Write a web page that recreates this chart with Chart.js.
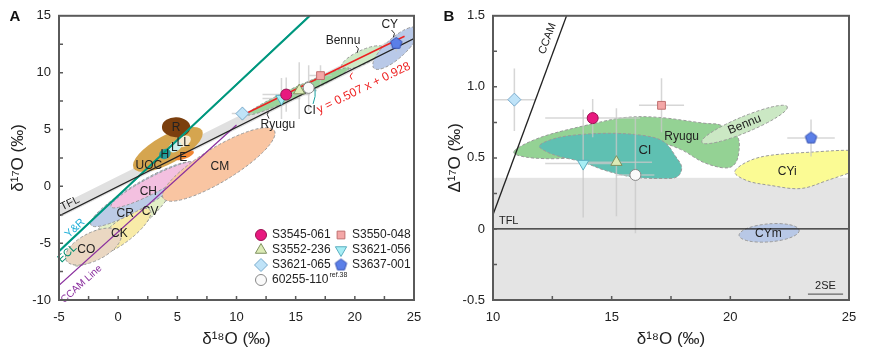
<!DOCTYPE html>
<html>
<head>
<meta charset="utf-8">
<script src="https://cdn.jsdelivr.net/npm/chart.js@4.4.0/dist/chart.umd.min.js"></script>
<style>
html, body { margin: 0; padding: 0; background: #fff; }
#wrap { position: relative; width: 869px; height: 360px; }
#chartA { position: absolute; left: 0; top: 0; }
#chartB { position: absolute; left: 434px; top: 0; }
</style>
</head>
<body>
<div id="wrap">
  <canvas id="chartA" width="434" height="360"></canvas>
  <canvas id="chartB" width="435" height="360"></canvas>
</div>
<script>
// ---- data ----
const samples = ['S3545-061', 'S3550-048', 'S3552-236', 'S3621-056', 'S3621-065', 'S3637-001', '60255-110'];
// panel A: d18O vs d17O
const d18A = [14.2, 17.1, 15.3, 13.8, 10.5, 23.5, 16.1];
const d17A = [8.07, 9.74, 8.42, 7.72, 6.40, 12.57, 8.66];
const d17Err = [1.5, 0.9, 2.5, 1.8, 0.6, 0.7, 2.0];
// panel B: d18O vs cap17O
const d18B = [14.2, 17.1, 15.2, 13.8, 10.9, 23.4, 16.0];
const cap17B = [0.78, 0.87, 0.47, 0.46, 0.91, 0.64, 0.38];
const cap17Err = [0.135, 0.19, 0.38, 0.38, 0.22, 0.13, 0.41];
const d18Err = [2.0, 0.95, 1.5, 1.6, 0.9, 1.0, 0.8];

const xTicksA = [-5, 0, 5, 10, 15, 20, 25];
const yTicksA = [-10, -5, 0, 5, 10, 15];
const xTicksB = [10, 15, 20, 25];
const yTicksB = [-0.5, 0, 0.5, 1.0, 1.5];

// reference lines
const tflA = [[-5, -2.6], [25, 13.0]];
const tflBandA = [[-5, -2.25], [25, 13.35]];
const eclA = [[-5, -5.7], [16.2, 15]];
const yrA = [[-5, -5.75], [16.15, 15]];
const ccamA = [[-5, -8.7], [10, 5.4]];
const fitA = [[10.5, 6.25], [24.2, 13.2]];
const tflB = [[10, 0], [25, 0]];
const ccamB = [[10, 0.1], [13.1, 1.5]];
const shadeTopB = 0.36;

// meteorite fields, panel A (major axis end points)
const fieldEndsA = {
  CV: [[-3.8, -6.9], [4.4, -0.1]],
  CK: [[-2.1, -5.9], [2.7, -2.1]],
  CO: [[-4.4, -6.5], [0.2, -4.1]],
  CR: [[-2.3, -3.4], [6.4, 2.0]],
  CH: [[-0.6, -1.8], [6.6, 2.1]],
  CM: [[3.8, -1.05], [13.2, 4.9]],
  UOC: [[1.3, 1.6], [7.1, 4.9]],
  LL: [[5.0, 3.6], [6.1, 4.3]],
  L: [[4.3, 3.15], [5.3, 3.8]],
  H: [[3.5, 2.6], [4.4, 3.1]],
  E: [[4.8, 2.4], [6.4, 3.05]],
  R: [[3.7, 5.25], [6.1, 5.15]],
  Bennu: [[18.9, 10.5], [22.4, 12.2]],
  CY: [[21.6, 10.4], [25.3, 13.9]],
  Ryugu: [[10.9, 6.3], [19.5, 10.4]]
};
// panel B fields
const ryuguB = [[10.9, 0.55], [12.1, 0.65], [14.2, 0.74], [15.6, 0.785], [17.0, 0.785], [18.85, 0.745], [19.6, 0.73], [20.3, 0.65], [20.35, 0.53], [20.15, 0.45], [19.7, 0.43], [18.85, 0.47], [17.9, 0.56], [17.0, 0.6], [15.5, 0.56], [14.0, 0.52], [12.8, 0.495], [11.4, 0.505]];
const ciB = [[11.97, 0.59], [12.8, 0.645], [14.2, 0.67], [15.6, 0.67], [16.74, 0.645], [17.3, 0.6], [17.67, 0.517], [17.95, 0.435], [17.74, 0.365], [17.04, 0.355], [15.9, 0.365], [14.76, 0.41], [13.79, 0.47], [12.8, 0.51], [12.24, 0.545]];
const cyiB = [[20.2, 0.41], [21.25, 0.505], [23.36, 0.54], [25.4, 0.545], [25.4, 0.43], [24.06, 0.34], [22.94, 0.284], [21.67, 0.307], [20.7, 0.34]];
const bennuEndsB = [[18.8, 0.61], [22.4, 0.86]];
const cymEndsB = [[20.37, -0.045], [22.9, -0.01]];

// ---- styles ----
Chart.defaults.font.family = "'Liberation Sans', Arial, sans-serif";
Chart.defaults.color = '#222';
const FONT = "'Liberation Sans', Arial, sans-serif";

function makePentagon(r, fill, stroke) {
  const c = document.createElement('canvas');
  const s = Math.ceil(2 * r + 3);
  c.width = s; c.height = s;
  const g = c.getContext('2d');
  g.beginPath();
  for (let i = 0; i < 5; i++) {
    const a = -Math.PI / 2 + i * 2 * Math.PI / 5;
    const x = s / 2 + r * Math.cos(a), y = s / 2 + r * Math.sin(a);
    if (i) g.lineTo(x, y); else g.moveTo(x, y);
  }
  g.closePath();
  g.fillStyle = fill; g.fill();
  g.strokeStyle = stroke; g.lineWidth = 1; g.stroke();
  return c;
}
const pentagon = makePentagon(6, '#5b7fe8', '#3450b0');

const markers = [
  { ps: 'circle', rot: 0, r: 5.5, bg: '#e8197f', bc: '#9a1050' },
  { ps: 'rect', rot: 0, r: 5.5, bg: '#f4a7a7', bc: '#c07070' },
  { ps: 'triangle', rot: 0, r: 6.5, bg: '#dcebb6', bc: '#7f9060' },
  { ps: 'triangle', rot: 180, r: 6.5, bg: '#a8eef5', bc: '#5aaec0' },
  { ps: 'rectRot', rot: 0, r: 6.5, bg: '#bfe3f8', bc: '#78aacc' },
  { ps: pentagon, rot: 0, r: 6, bg: '#5b7fe8', bc: '#3450b0' },
  { ps: 'circle', rot: 0, r: 5.5, bg: '#fafafa', bc: '#888' }
];

const fieldStyleA = {
  CV: { fill: '#e3efc6', hw: 13, dash: true },
  CK: { fill: '#f8eba8', hw: 11, dash: true },
  CO: { fill: '#ead7c2', hw: 14, dash: true },
  CR: { fill: '#bccbe6', hw: 12, dash: true },
  CH: { fill: '#f3c0e0', hw: 8, dash: true },
  CM: { fill: '#f9c5a2', hw: 17, dash: true },
  UOC: { fill: '#d5a54f', hw: 14 },
  LL: { fill: '#f7ead2', hw: 5 },
  L: { fill: '#c9eeee', hw: 5 },
  H: { fill: '#2a9c9c', hw: 5 },
  E: { fill: '#ef8532', hw: 3.5 },
  R: { fill: '#7b3f0e', hw: 10 },
  Bennu: { fill: '#cfe9c6', hw: 7, dash: true },
  CY: { fill: '#b9c9e8', hw: 10, dash: true },
  Ryugu: { fill: '#9bd49b', hw: 5, dash: true }
};

const labelsA = [
  { t: 'R', x: 4.9, y: 5.2 }, { t: 'LL', x: 5.5, y: 3.85 }, { t: 'L', x: 4.75, y: 3.4 },
  { t: 'H', x: 3.95, y: 2.8 }, { t: 'E', x: 5.5, y: 2.5 }, { t: 'UOC', x: 2.6, y: 1.8 },
  { t: 'CM', x: 8.6, y: 1.7 }, { t: 'CH', x: 2.55, y: -0.45 }, { t: 'CR', x: 0.6, y: -2.4 },
  { t: 'CV', x: 2.7, y: -2.25 }, { t: 'CK', x: 0.1, y: -4.2 }, { t: 'CO', x: -2.7, y: -5.55 },
  { t: 'Ryugu', x: 13.5, y: 5.45 }, { t: 'CI', x: 16.2, y: 6.65 }, { t: 'Bennu', x: 19.0, y: 12.8 },
  { t: 'CY', x: 22.95, y: 14.25 }
];
const leadersA = [
  { c: '#333', p: [[12.75, 5.96], [12.6, 6.3], [12.7, 6.6]] },
  { c: '#1aa0a0', p: [[16.47, 7.25], [16.64, 7.9], [16.64, 8.55]] },
  { c: '#333', p: [[20.1, 12.35], [20.3, 12.1], [20.2, 11.75]] },
  { c: '#333', p: [[23.1, 13.75], [23.35, 13.45], [23.25, 13.1]] },
  { c: '#e22', p: [[19.8, 10.0], [19.6, 9.7], [19.75, 9.4]] }
];

// ---- helpers ----
function P(chart, x, y) { return [chart.scales.x.getPixelForValue(x), chart.scales.y.getPixelForValue(y)]; }

function ellipseBetween(ctx, a, b, hw) {
  const cx = (a[0] + b[0]) / 2, cy = (a[1] + b[1]) / 2;
  const rx = Math.hypot(b[0] - a[0], b[1] - a[1]) / 2;
  const ang = Math.atan2(b[1] - a[1], b[0] - a[0]);
  ctx.beginPath();
  ctx.ellipse(cx, cy, rx, hw, ang, 0, Math.PI * 2);
}

function smoothClosed(ctx, pts) {
  const n = pts.length;
  ctx.beginPath();
  ctx.moveTo(pts[0][0], pts[0][1]);
  for (let i = 0; i < n; i++) {
    const p0 = pts[(i - 1 + n) % n], p1 = pts[i], p2 = pts[(i + 1) % n], p3 = pts[(i + 2) % n];
    ctx.bezierCurveTo(p1[0] + (p2[0] - p0[0]) / 6, p1[1] + (p2[1] - p0[1]) / 6,
      p2[0] - (p3[0] - p1[0]) / 6, p2[1] - (p3[1] - p1[1]) / 6, p2[0], p2[1]);
  }
  ctx.closePath();
}

function paintField(ctx, fill, dash) {
  ctx.fillStyle = fill;
  ctx.fill();
  if (dash) {
    ctx.setLineDash([3, 2]);
    ctx.strokeStyle = '#9a9a9a';
    ctx.lineWidth = 1;
    ctx.stroke();
    ctx.setLineDash([]);
  }
}

function text(ctx, t, x, y, opt) {
  opt = opt || {};
  ctx.save();
  ctx.translate(x, y);
  ctx.rotate(opt.angle || 0);
  ctx.font = opt.font || ('12px ' + FONT);
  ctx.fillStyle = opt.color || '#222';
  ctx.textAlign = opt.align || 'center';
  ctx.textBaseline = 'middle';
  ctx.fillText(t, 0, 0);
  ctx.restore();
}

function lineAngle(chart, pts) {
  const a = P(chart, pts[0][0], pts[0][1]), b = P(chart, pts[1][0], pts[1][1]);
  return Math.atan2(b[1] - a[1], b[0] - a[0]);
}

function drawErrorBars(chart, xs, ys, xe, ye) {
  const ctx = chart.ctx;
  ctx.save();
  ctx.strokeStyle = 'rgba(200,200,200,0.75)';
  ctx.lineWidth = 1.5;
  for (let i = 0; i < xs.length; i++) {
    const l = P(chart, xs[i] - xe[i], ys[i]), r = P(chart, xs[i] + xe[i], ys[i]);
    const t = P(chart, xs[i], ys[i] + ye[i]), b = P(chart, xs[i], ys[i] - ye[i]);
    ctx.beginPath();
    ctx.moveTo(l[0], l[1]); ctx.lineTo(r[0], r[1]);
    ctx.moveTo(t[0], t[1]); ctx.lineTo(b[0], b[1]);
    ctx.stroke();
  }
  ctx.restore();
}

// frame, inward ticks and panel letter
function frameAndTicks(chart, letter) {
  const ctx = chart.ctx, ca = chart.chartArea;
  ctx.save();
  ctx.strokeStyle = '#5a5a5a';
  ctx.lineWidth = 2;
  ctx.strokeRect(ca.left, ca.top, ca.right - ca.left, ca.bottom - ca.top);
  ctx.lineWidth = 1.5;
  ctx.beginPath();
  chart.scales.x.ticks.forEach(t => {
    const x = chart.scales.x.getPixelForValue(t.value);
    if (x <= ca.left + 1 || x >= ca.right - 1) return;
    ctx.moveTo(x, ca.bottom); ctx.lineTo(x, ca.bottom - 4);
  });
  chart.scales.y.ticks.forEach(t => {
    const y = chart.scales.y.getPixelForValue(t.value);
    if (y <= ca.top + 1 || y >= ca.bottom - 1) return;
    ctx.moveTo(ca.left, y); ctx.lineTo(ca.left + 4, y);
  });
  ctx.stroke();
  ctx.restore();
  text(ctx, letter, 15, 17, { font: 'bold 15px ' + FONT, color: '#111' });
}

function tickLabel(list, fmt) {
  return v => {
    const hit = list.some(t => Math.abs(t - v) < 1e-6);
    return hit ? fmt(v) : '';
  };
}

function sampleSets(xs, ys) {
  return samples.map((s, i) => ({
    label: s,
    data: [{ x: xs[i], y: ys[i] }],
    pointStyle: markers[i].ps,
    rotation: markers[i].rot,
    pointRadius: markers[i].r,
    pointHoverRadius: markers[i].r,
    pointBackgroundColor: markers[i].bg,
    pointBorderColor: markers[i].bc,
    pointBorderWidth: 1,
    showLine: false,
    order: 0
  }));
}

function lineSet(pts, color, width, order) {
  return {
    data: pts.map(p => ({ x: p[0], y: p[1] })),
    showLine: true, borderColor: color, borderWidth: width,
    pointRadius: 0, pointHoverRadius: 0, order: order
  };
}

function axes(xmin, xmax, xstep, ymin, ymax, ystep, xl, yl, xfmt, yfmt, xTitle, yTitle, yPad) {
  return {
    x: {
      type: 'linear', min: xmin, max: xmax,
      grid: { display: false, drawTicks: false }, border: { display: false },
      ticks: { stepSize: xstep, autoSkip: false, padding: 10, font: { size: 13 }, color: '#222', callback: tickLabel(xl, xfmt) },
      title: { display: true, text: xTitle, font: { size: 17 }, color: '#222', padding: { top: 2, bottom: 10 } },
      afterFit: s => { s.height = 60; }
    },
    y: {
      type: 'linear', min: ymin, max: ymax,
      grid: { display: false, drawTicks: false }, border: { display: false },
      ticks: { stepSize: ystep, autoSkip: false, padding: 8, font: { size: 13 }, color: '#222', callback: tickLabel(yl, yfmt) },
      title: { display: true, text: yTitle, font: { size: 17 }, color: '#222', padding: { top: yPad, bottom: 0 } },
      afterFit: s => { s.width = 59; }
    }
  };
}

// ---- panel A ----
const panelA = {
  id: 'panelA',
  beforeDatasetsDraw(chart) {
    const ctx = chart.ctx, ca = chart.chartArea;
    ctx.save();
    ctx.beginPath(); ctx.rect(ca.left, ca.top, ca.right - ca.left, ca.bottom - ca.top); ctx.clip();
    // gray band along TFL
    const b0 = P(chart, tflBandA[0][0], tflBandA[0][1]), b1 = P(chart, tflBandA[1][0], tflBandA[1][1]);
    ctx.strokeStyle = '#e0e0e0'; ctx.lineWidth = 11;
    ctx.beginPath(); ctx.moveTo(b0[0], b0[1]); ctx.lineTo(b1[0], b1[1]); ctx.stroke();
    Object.keys(fieldEndsA).forEach(k => {
      const e = fieldEndsA[k], st = fieldStyleA[k];
      ellipseBetween(ctx, P(chart, e[0][0], e[0][1]), P(chart, e[1][0], e[1][1]), st.hw);
      paintField(ctx, st.fill, st.dash);
    });
    ctx.restore();
    drawErrorBars(chart, d18A, d17A, d18Err, d17Err);
  },
  afterDatasetsDraw(chart) {
    const ctx = chart.ctx, ca = chart.chartArea;
    labelsA.forEach(l => {
      const p = P(chart, l.x, l.y);
      text(ctx, l.t, p[0], p[1], { font: '12px ' + FONT });
    });
    leadersA.forEach(ld => {
      ctx.save(); ctx.strokeStyle = ld.c; ctx.lineWidth = 1; ctx.beginPath();
      ld.p.forEach((q, i) => { const p = P(chart, q[0], q[1]); if (i) ctx.lineTo(p[0], p[1]); else ctx.moveTo(p[0], p[1]); });
      ctx.stroke(); ctx.restore();
    });
    // line labels
    let p = P(chart, -4.07, -1.5);
    text(ctx, 'TFL', p[0], p[1], { angle: lineAngle(chart, tflA), font: '11px ' + FONT });
    p = P(chart, -3.65, -3.7);
    text(ctx, 'Y&R', p[0], p[1], { angle: lineAngle(chart, yrA), font: '11px ' + FONT, color: '#22b0d8' });
    p = P(chart, -4.3, -5.9);
    text(ctx, 'ECL', p[0], p[1], { angle: lineAngle(chart, eclA), font: '11px ' + FONT, color: '#009070' });
    p = P(chart, -3.1, -8.6);
    text(ctx, 'CCAM Line', p[0], p[1], { angle: lineAngle(chart, ccamA), font: '10px ' + FONT, color: '#8a2f9e' });
    p = P(chart, 20.75, 8.65);
    text(ctx, 'y = 0.507 x + 0.928', p[0], p[1], { angle: lineAngle(chart, fitA), font: '12px ' + FONT, color: '#ee2222' });
    // legend
    const colX = [ca.left + 202, ca.left + 282];
    const rowY = [ca.bottom - 65, ca.bottom - 50, ca.bottom - 35, ca.bottom - 20];
    samples.forEach((s, i) => {
      const x = colX[i % 2], y = rowY[Math.floor(i / 2)], m = markers[i];
      ctx.save();
      ctx.fillStyle = m.bg; ctx.strokeStyle = m.bc; ctx.lineWidth = 1;
      if (Chart.helpers && Chart.helpers.drawPoint) {
        Chart.helpers.drawPoint(ctx, { pointStyle: m.ps, rotation: m.rot, radius: m.r, borderWidth: 1 }, x, y);
      } else {
        ctx.beginPath(); ctx.arc(x, y, m.r, 0, Math.PI * 2); ctx.fill(); ctx.stroke();
      }
      ctx.restore();
      text(ctx, s, x + 11, y, { align: 'left', font: '12px ' + FONT });
      if (s === '60255-110') {
        ctx.font = '12px ' + FONT;
        const w = ctx.measureText(s).width;
        text(ctx, 'ref.38', x + 12 + w, y - 5, { align: 'left', font: '7px ' + FONT });
      }
    });
    frameAndTicks(chart, 'A');
  }
};

new Chart(document.getElementById('chartA'), {
  type: 'scatter',
  data: {
    datasets: sampleSets(d18A, d17A).concat([
      lineSet(fitA, '#ee2222', 1.5, 1),
      lineSet(tflA, '#222', 1.3, 2),
      lineSet(eclA, '#00977a', 2, 2),
      lineSet(ccamA, '#8a2f9e', 1.2, 2),
      lineSet(yrA, '#22b0d8', 1.5, 3)
    ])
  },
  options: {
    responsive: false, animation: false,
    layout: { padding: { left: 0, top: 15, right: 20, bottom: 0 } },
    plugins: { legend: { display: false }, tooltip: { enabled: false } },
    scales: axes(-5, 25, 2.5, -10, 15, 2.5, xTicksA, yTicksA, v => String(v), v => String(v),
      'δ¹⁸O (‰)', 'δ¹⁷O (‰)', 8)
  },
  plugins: [panelA]
});

// ---- panel B ----
const panelB = {
  id: 'panelB',
  beforeDatasetsDraw(chart) {
    const ctx = chart.ctx, ca = chart.chartArea;
    ctx.save();
    ctx.beginPath(); ctx.rect(ca.left, ca.top, ca.right - ca.left, ca.bottom - ca.top); ctx.clip();
    const top = chart.scales.y.getPixelForValue(shadeTopB);
    ctx.fillStyle = '#e4e4e4';
    ctx.fillRect(ca.left, top, ca.right - ca.left, ca.bottom - top);
    const toPx = arr => arr.map(q => P(chart, q[0], q[1]));
    smoothClosed(ctx, toPx(ryuguB)); paintField(ctx, '#94d294', true);
    smoothClosed(ctx, toPx(ciB)); paintField(ctx, '#5fc0b2', true);
    ellipseBetween(ctx, P(chart, bennuEndsB[0][0], bennuEndsB[0][1]), P(chart, bennuEndsB[1][0], bennuEndsB[1][1]), 8);
    paintField(ctx, '#cbe8c4', true);
    smoothClosed(ctx, toPx(cyiB)); paintField(ctx, '#fbfb94', true);
    ellipseBetween(ctx, P(chart, cymEndsB[0][0], cymEndsB[0][1]), P(chart, cymEndsB[1][0], cymEndsB[1][1]), 9);
    paintField(ctx, '#b8c8e6', true);
    ctx.restore();
    drawErrorBars(chart, d18B, cap17B, d18Err, cap17Err);
  },
  afterDatasetsDraw(chart) {
    const ctx = chart.ctx;
    let p = P(chart, 16.4, 0.55); text(ctx, 'CI', p[0], p[1], { font: '13px ' + FONT });
    p = P(chart, 17.95, 0.65); text(ctx, 'Ryugu', p[0], p[1]);
    p = P(chart, 20.6, 0.735);
    text(ctx, 'Bennu', p[0], p[1], { angle: lineAngle(chart, bennuEndsB) });
    p = P(chart, 22.4, 0.40); text(ctx, 'CYi', p[0], p[1]);
    p = P(chart, 21.6, -0.035); text(ctx, 'CYm', p[0], p[1]);
    p = P(chart, 10.25, 0.055); text(ctx, 'TFL', p[0], p[1], { align: 'left', font: '11px ' + FONT });
    p = P(chart, 12.3, 1.34);
    text(ctx, 'CCAM', p[0], p[1], { angle: lineAngle(chart, ccamB), font: '11px ' + FONT });
    // 2SE scale mark
    const a = P(chart, 23.27, -0.458), b = P(chart, 24.75, -0.458);
    ctx.save(); ctx.strokeStyle = '#666'; ctx.lineWidth = 1.2;
    ctx.beginPath(); ctx.moveTo(a[0], a[1]); ctx.lineTo(b[0], b[1]); ctx.stroke(); ctx.restore();
    text(ctx, '2SE', (a[0] + b[0]) / 2, a[1] - 8, { font: '11px ' + FONT });
    frameAndTicks(chart, 'B');
  }
};

new Chart(document.getElementById('chartB'), {
  type: 'scatter',
  data: {
    datasets: sampleSets(d18B, cap17B).concat([
      lineSet(tflB, '#222', 1.3, 2),
      lineSet(ccamB, '#222', 1.3, 2)
    ])
  },
  options: {
    responsive: false, animation: false,
    layout: { padding: { left: 0, top: 15, right: 20, bottom: 0 } },
    plugins: { legend: { display: false }, tooltip: { enabled: false } },
    scales: axes(10, 25, 2.5, -0.5, 1.5, 0.25, xTicksB, yTicksB, v => String(v),
      v => (Math.abs(v) < 1e-9 ? '0' : v.toFixed(1)), 'δ¹⁸O (‰)', 'Δ¹⁷O (‰)', 11)
  },
  plugins: [panelB]
});
</script>
</body>
</html>
